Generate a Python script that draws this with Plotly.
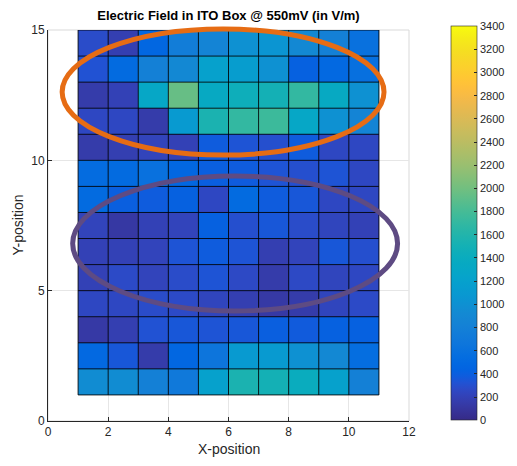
import plotly.graph_objects as go

# ---- data ----
x_edges = [1, 2, 3, 4, 5, 6, 7, 8, 9, 10, 11]
y_edges = [1, 2, 3, 4, 5, 6, 7, 8, 9, 10, 11, 12, 13, 14, 15]

# rows listed from top (y=14..15) to bottom (y=1..2)
rows_top_down = [
    [280, 180, 470, 750, 850, 1000, 1050, 900, 800, 600],
    [320, 520, 800, 900, 1200, 1150, 1000, 420, 500, 580],
    [150, 200, 1300, 1950, 1350, 1450, 1500, 1700, 1350, 1000],
    [250, 250, 150, 1100, 1550, 1700, 1750, 1300, 1000, 850],
    [150, 180, 220, 200, 380, 330, 300, 380, 250, 250],
    [530, 520, 600, 470, 400, 380, 330, 300, 330, 250],
    [520, 400, 380, 420, 250, 520, 380, 350, 250, 250],
    [220, 120, 200, 220, 420, 300, 350, 280, 230, 200],
    [200, 200, 220, 330, 380, 330, 180, 220, 350, 300],
    [200, 270, 220, 280, 330, 260, 150, 260, 230, 250],
    [250, 250, 280, 270, 230, 180, 130, 150, 230, 270],
    [130, 180, 320, 350, 330, 350, 400, 370, 420, 420],
    [500, 350, 150, 480, 650, 1100, 1100, 1000, 900, 550],
    [950, 950, 800, 700, 1200, 1550, 1500, 1400, 1200, 800],
]
z = rows_top_down[::-1]

cbar_ticks = list(range(0, 3401, 200))
x_ticks = [0, 2, 4, 6, 8, 10, 12]
y_ticks = [0, 5, 10, 15]

# annotation ellipses (data units): center x, center y, half-width, half-height
orange_ellipse = (5.82, 12.62, 5.35, 2.42)
purple_ellipse = (6.22, 6.81, 5.40, 2.59)

# ---- parula colormap ----
parula = [
    (0.2081, 0.1663, 0.5292), (0.2116, 0.1898, 0.5777), (0.2123, 0.2138, 0.6270),
    (0.2081, 0.2386, 0.6771), (0.1959, 0.2645, 0.7279), (0.1707, 0.2919, 0.7792),
    (0.1253, 0.3242, 0.8303), (0.0591, 0.3598, 0.8683), (0.0117, 0.3875, 0.8820),
    (0.0060, 0.4086, 0.8828), (0.0165, 0.4266, 0.8786), (0.0329, 0.4430, 0.8720),
    (0.0498, 0.4586, 0.8641), (0.0629, 0.4737, 0.8554), (0.0723, 0.4887, 0.8467),
    (0.0779, 0.5040, 0.8384), (0.0793, 0.5200, 0.8312), (0.0749, 0.5375, 0.8263),
    (0.0641, 0.5570, 0.8240), (0.0488, 0.5772, 0.8228), (0.0343, 0.5966, 0.8199),
    (0.0265, 0.6137, 0.8135), (0.0239, 0.6287, 0.8038), (0.0231, 0.6418, 0.7913),
    (0.0228, 0.6535, 0.7768), (0.0267, 0.6642, 0.7607), (0.0384, 0.6743, 0.7436),
    (0.0590, 0.6838, 0.7254), (0.0843, 0.6928, 0.7062), (0.1133, 0.7015, 0.6859),
    (0.1453, 0.7098, 0.6646), (0.1801, 0.7177, 0.6424), (0.2178, 0.7250, 0.6193),
    (0.2586, 0.7317, 0.5954), (0.3022, 0.7376, 0.5712), (0.3482, 0.7424, 0.5473),
    (0.3953, 0.7459, 0.5244), (0.4420, 0.7481, 0.5033), (0.4871, 0.7491, 0.4840),
    (0.5300, 0.7491, 0.4661), (0.5709, 0.7485, 0.4494), (0.6099, 0.7473, 0.4337),
    (0.6473, 0.7456, 0.4188), (0.6834, 0.7435, 0.4044), (0.7184, 0.7411, 0.3905),
    (0.7525, 0.7384, 0.3768), (0.7858, 0.7356, 0.3633), (0.8185, 0.7327, 0.3498),
    (0.8507, 0.7299, 0.3360), (0.8824, 0.7274, 0.3217), (0.9139, 0.7258, 0.3063),
    (0.9450, 0.7261, 0.2886), (0.9739, 0.7314, 0.2666), (0.9938, 0.7455, 0.2403),
    (0.9990, 0.7653, 0.2164), (0.9955, 0.7861, 0.1967), (0.9880, 0.8066, 0.1794),
    (0.9789, 0.8271, 0.1633), (0.9697, 0.8481, 0.1475), (0.9626, 0.8705, 0.1309),
    (0.9589, 0.8949, 0.1132), (0.9598, 0.9218, 0.0948), (0.9661, 0.9514, 0.0755),
    (0.9763, 0.9831, 0.0538),
]
n = len(parula)
colorscale = [[i / (n - 1), "rgb(%d,%d,%d)" % tuple(round(c * 255) for c in rgb)]
              for i, rgb in enumerate(parula)]

FONT = "Liberation Sans, Arial, sans-serif"
TXT = "#262626"

# page has an 8px body margin; figure is sized to fit the 517x466 window
W, H = 501, 450
ML, MR, MT, MB = 40, 100, 22, 37

fig = go.Figure()
fig.add_trace(go.Heatmap(
    x=x_edges, y=y_edges, z=z,
    colorscale=colorscale, zmin=0, zmax=3400,
    hoverinfo="skip",
    colorbar=dict(
        x=1.116, xanchor="left", xpad=0, ypad=0, thickness=26,
        len=1.008, lenmode="fraction", y=0.002, yanchor="bottom",
        tickvals=cbar_ticks, ticktext=[str(t) for t in cbar_ticks],
        ticks="inside", ticklen=3, tickcolor=TXT,
        outlinecolor=TXT, outlinewidth=0.6,
        tickfont=dict(family=FONT, size=11, color=TXT),
    ),
))

# cell edges (pcolor style)
ex, ey = [], []
for xe in x_edges:
    ex += [xe, xe, None]
    ey += [y_edges[0], y_edges[-1], None]
for ye in y_edges:
    ex += [x_edges[0], x_edges[-1], None]
    ey += [ye, ye, None]
fig.add_trace(go.Scatter(x=ex, y=ey, mode="lines",
                         line=dict(color="rgba(0,0,0,0.85)", width=1),
                         hoverinfo="skip", showlegend=False))

XR = (0, 12)
YR = (0, 15)

def ellipse_shape(e, color):
    cx, cy, a, b = e
    return dict(type="circle", xref="paper", yref="paper",
                x0=(cx - a - XR[0]) / (XR[1] - XR[0]),
                x1=(cx + a - XR[0]) / (XR[1] - XR[0]),
                y0=(cy - b - YR[0]) / (YR[1] - YR[0]),
                y1=(cy + b - YR[0]) / (YR[1] - YR[0]),
                line=dict(color=color, width=5), layer="above")

plot_w = W - ML - MR
fig.update_layout(
    width=W, height=H,
    margin=dict(l=ML, r=MR, t=MT, b=MB, autoexpand=False),
    paper_bgcolor="white", plot_bgcolor="white",
    showlegend=False,
    title=dict(text="<b>Electric Field in ITO Box @ 550mV (in V/m)</b>",
               x=(ML + plot_w / 2) / W, xanchor="center", y=1 - 7 / H, yanchor="middle",
               font=dict(family=FONT, size=13, color="black")),
    font=dict(family=FONT, color=TXT),
    shapes=[ellipse_shape(orange_ellipse, "#E66C14"),
            ellipse_shape(purple_ellipse, "#5E4B83")],
    annotations=[
        dict(text="X-position", xref="paper", yref="paper", x=0.5, y=0,
             xanchor="center", yanchor="middle", yshift=-28, showarrow=False,
             font=dict(family=FONT, size=14, color=TXT)),
        dict(text="Y-position", xref="paper", yref="paper", x=0, y=0.5,
             xanchor="center", yanchor="middle", xshift=-31, textangle=-90,
             showarrow=False, font=dict(family=FONT, size=14, color=TXT)),
    ],
)
fig.update_xaxes(range=list(XR), tickvals=x_ticks, ticks="inside", ticklen=4,
                 tickcolor=TXT, showline=True, linecolor=TXT, linewidth=1,
                 mirror=False, showgrid=True, gridcolor="#e6e6e6", zeroline=False,
                 automargin=False,
                 tickfont=dict(family=FONT, size=12, color=TXT))
fig.update_yaxes(range=list(YR), tickvals=y_ticks, ticks="inside", ticklen=4,
                 tickcolor=TXT, showline=True, linecolor=TXT, linewidth=1,
                 mirror=False, showgrid=True, gridcolor="#e6e6e6", zeroline=False,
                 automargin=False,
                 tickfont=dict(family=FONT, size=12, color=TXT))
# light box at top/right
fig.add_shape(type="rect", xref="paper", yref="paper", x0=0, x1=1, y0=0, y1=1,
              line=dict(color="#d9d9d9", width=1), layer="below")

fig.write_html("out.html")
